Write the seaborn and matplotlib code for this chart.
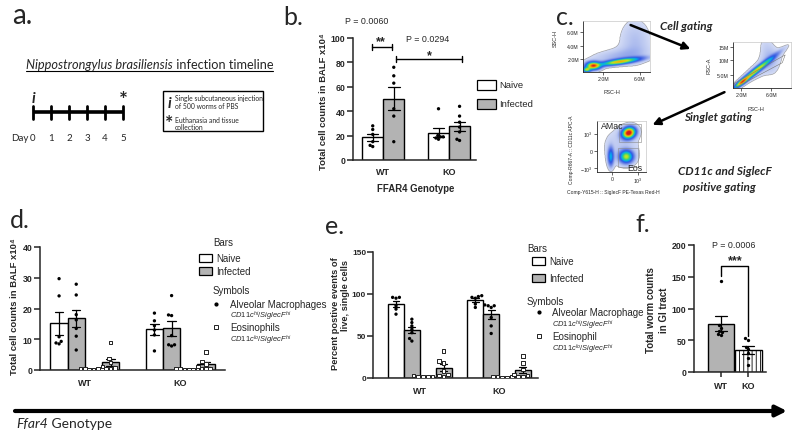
import numpy as np
import pandas as pd
import matplotlib
matplotlib.use("Agg")
import matplotlib.pyplot as plt
import seaborn as sns
from matplotlib.patches import Rectangle, Polygon
from matplotlib.colors import LinearSegmentedColormap, PowerNorm

# ---------------- data ----------------
timeline_days = [0, 1, 2, 3, 4, 5]

b_genotypes = ["WT", "KO"]
b_conditions = ["Naive", "Infected"]
b_wt_naive = [28, 25, 21, 15, 12, 11]
b_wt_infected = [76, 69, 63, 42, 36, 15]
b_ko_naive = [42, 20, 19, 19, 18, 17]
b_ko_infected = [44, 36, 31, 27, 23, 17, 16]
b_yticks = [0, 20, 40, 60, 80, 100]

cell_groups = ["AM Naive", "AM Infected", "Eos Naive", "Eos Infected"]
d_wt_am_naive = [29.7, 24.1, 10.8, 9.3, 8.5, 8.8]
d_wt_am_infected = [27.9, 24.4, 18.0, 16.3, 13.5, 11.0, 6.5]
d_wt_eos_naive = [0.5, 0.4, 0.3, 0.3, 0.2, 0.2]
d_wt_eos_infected = [9.0, 3.8, 2.4, 1.2, 0.6, 0.5, 0.3]
d_ko_am_naive = [18.5, 16.0, 14.4, 13.0, 11.4, 6.2]
d_ko_am_infected = [24.2, 17.9, 17.7, 11.2, 8.2, 8.2, 7.8]
d_ko_eos_naive = [0.4, 0.3, 0.3, 0.2, 0.2, 0.1]
d_ko_eos_infected = [5.8, 2.8, 2.0, 1.2, 0.5, 0.4, 0.3]
d_yticks = [0, 10, 20, 30, 40]

e_wt_am_naive = [96, 96, 95, 86, 82, 76]
e_wt_am_infected = [70, 66, 62, 58, 54, 47, 44]
e_wt_eos_naive = [3, 2, 2, 1.5, 1, 1]
e_wt_eos_infected = [32, 20, 18, 8, 4, 3, 2]
e_ko_am_naive = [98, 97, 96, 95, 88, 84]
e_ko_am_infected = [87, 86, 86, 84, 72, 62, 53]
e_ko_eos_naive = [2, 1.5, 1, 1, 0.5, 0.5]
e_ko_eos_infected = [26, 18, 10, 4, 3, 2, 1]
e_yticks = [0, 50, 100, 150]

f_genotypes = ["WT", "KO"]
f_wt = [143, 74, 70, 65, 63, 60, 58]
f_ko = [53, 50, 40, 36, 30, 22, 11]
f_yticks = [0, 50, 100, 150, 200]

# flow-cytometry density blobs: (cx, cy, sx, sy, angle, weight)
flow1_blobs = [(0.15, 0.12, 0.07, 0.05, 0, 1.0), (0.55, 0.2, 0.2, 0.035, 11, 0.85),
               (0.05, 0.04, 0.04, 0.03, 0, 0.7), (0.78, 0.6, 0.16, 0.3, 0, 0.08),
               (0.5, 0.3, 0.28, 0.1, 10, 0.09)]
flow2_blobs = [(0.38, 0.36, 0.3, 0.035, 45, 1.0), (0.15, 0.12, 0.1, 0.03, 45, 0.8),
               (0.62, 0.72, 0.1, 0.28, 10, 0.08), (0.5, 0.45, 0.35, 0.12, 45, 0.07)]
flow3_blobs = [(0.65, 0.77, 0.09, 0.07, 20, 1.0), (0.6, 0.3, 0.09, 0.08, 0, 0.6),
               (0.28, 0.3, 0.04, 0.12, 0, 0.35), (0.5, 0.5, 0.3, 0.3, 0, 0.05)]

# ---------------- setup ----------------
sns.set_theme(style="ticks")
plt.rcParams["font.family"] = ["Liberation Sans", "DejaVu Sans"]
plt.rcParams["mathtext.fontset"] = "custom"
plt.rcParams["mathtext.rm"] = "Liberation Sans"
plt.rcParams["mathtext.it"] = "Liberation Sans:italic"
plt.rcParams["mathtext.bf"] = "Liberation Sans:bold"
plt.rcParams["hatch.linewidth"] = 0.6

W, H = 792, 431
fig = plt.figure(figsize=(W / 100, H / 100), dpi=100)
fig.patch.set_facecolor("white")
GRAY = "#b3b3b3"
CAL = ["Lato", "DejaVu Sans"]


def pax(x0, y0, x1, y1):
    ax = fig.add_axes([x0 / W, 1 - y1 / H, (x1 - x0) / W, (y1 - y0) / H])
    ax.patch.set_alpha(0)
    return ax


ov = fig.add_axes([0, 0, 1, 1], zorder=20)
ov.set_xlim(0, W)
ov.set_ylim(H, 0)
ov.axis("off")
ov.patch.set_alpha(0)


def long_df(genos, groups, arrays):
    rows = []
    for g, arrs in zip(genos, arrays):
        for grp, vals in zip(groups, arrs):
            for v in vals:
                rows.append((g, grp, v))
    return pd.DataFrame(rows, columns=["genotype", "group", "value"])


def style_ax(ax, yticks, xtick_len=0, xpad=6, ysize=6.3, ypad=1.5):
    sns.despine(ax=ax)
    ax.set_ylim(yticks[0], yticks[-1])
    ax.set_yticks(yticks)
    ax.tick_params(axis="y", length=4, width=1.1, pad=ypad, labelsize=ysize)
    ax.tick_params(axis="x", length=xtick_len, width=1.1, pad=xpad, labelsize=6.5)
    for lab in ax.get_yticklabels() + ax.get_xticklabels():
        lab.set_fontweight("bold")
    for s in ["left", "bottom"]:
        ax.spines[s].set_linewidth(1.1)
    ax.set_xlabel("")
    ax.set_ylabel("")


swarm_sets = []


def bars_and_points(ax, df, order, hue_order, palette, width, squares=None):
    sns.barplot(data=df, x="genotype", y="value", hue="group", order=order,
                hue_order=hue_order, palette=palette, width=width,
                edgecolor="black", linewidth=1.0, errorbar="se", capsize=0.35,
                err_kws={"color": "black", "linewidth": 0.9}, legend=False, ax=ax)
    n0 = len(ax.collections)
    sq = squares or []
    dots = df[~df["group"].isin(sq)]
    sns.swarmplot(data=dots, x="genotype", y="value", hue="group", order=order,
                  hue_order=hue_order, dodge=True, palette={h: "black" for h in hue_order},
                  size=2.4, legend=False, ax=ax, zorder=4)
    if sq:
        sqd = df[df["group"].isin(sq)]
        sns.swarmplot(data=sqd, x="genotype", y="value", hue="group", order=order,
                      hue_order=hue_order, dodge=True, palette={h: "white" for h in hue_order},
                      marker="s", size=2.6, edgecolor="#222222", linewidth=0.7,
                      legend=False, ax=ax, zorder=4)
    swarm_sets.append((ax.collections[n0:], width / 0.8))


# ================= panel a =================
ov.text(12, 24, "a.", fontsize=20, family=CAL, va="baseline")
r = fig.canvas.get_renderer()
t1 = ov.text(26, 69, "Nippostrongylus brasiliensis", fontsize=9.2, family=CAL,
             style="italic", va="baseline")
x_end = t1.get_window_extent(r).x1
t2 = ov.text(x_end, 69, " infection timeline", fontsize=9.2, family=CAL, va="baseline")
ov.plot([26, t2.get_window_extent(r).x1], [71.5, 71.5], color="black", lw=0.8)

day_x = [33 + 18 * d for d in timeline_days]
ov.plot([day_x[0], day_x[-1]], [113, 113], color="black", lw=2.6, solid_capstyle="butt")
for x, d in zip(day_x, timeline_days):
    ov.plot([x, x], [106.5, 119.5], color="black", lw=2)
    ov.text(x, 141, str(d), fontsize=7, family=CAL, ha="center", va="baseline")
ov.text(28, 141, "Day", fontsize=7, family=CAL, ha="right", va="baseline")
ov.text(day_x[0], 103, "i", fontsize=11, family=CAL, style="italic", weight="bold",
        ha="center", va="baseline")
ov.text(day_x[-1], 101, "*", fontsize=15, family=CAL, weight="bold", ha="center", va="center")

ov.add_patch(Rectangle((163, 92), 100, 40, fill=False, ec="black", lw=1))
ov.text(169, 108, "i", fontsize=11, family=CAL, style="italic", weight="bold",
        ha="center", va="baseline")
ov.text(175, 101.5, "Single subcutaneous injection", fontsize=4.9, family=CAL, va="baseline")
ov.text(175, 109, "of 500 worms of PBS", fontsize=4.9, family=CAL, va="baseline")
ov.text(169, 124, "*", fontsize=14, family=CAL, weight="bold", ha="center", va="center")
ov.text(175, 123, "Euthanasia and tissue", fontsize=4.9, family=CAL, va="baseline")
ov.text(175, 130, "collection", fontsize=4.9, family=CAL, va="baseline")

# ================= panel b =================
ov.text(283, 25, "b.", fontsize=18, family=CAL, va="baseline")
axb = pax(353, 39, 476, 161)
df_b = long_df(b_genotypes, b_conditions,
               [[b_wt_naive, b_wt_infected], [b_ko_naive, b_ko_infected]])
bars_and_points(axb, df_b, b_genotypes, b_conditions,
                {"Naive": "white", "Infected": GRAY}, 0.64)
axb.set_xlim(-0.46, 1.41)
style_ax(axb, b_yticks, xpad=5)
ov.text(323, 102, "Total cell counts in BALF x10⁴", rotation=90, fontsize=6.8,
        weight="bold", ha="center", va="center")
ov.text(416, 189, "FFAR4 Genotype", fontsize=6.9, weight="bold", ha="center", va="center")
ov.text(367, 21, "P = 0.0060", fontsize=6.4, ha="center", va="center")
ov.text(381, 42, "**", fontsize=9, weight="bold", ha="center", va="center")
ov.plot([372, 392], [47.5, 47.5], color="black", lw=1)
for x in [372, 392]:
    ov.plot([x, x], [44.5, 50.5], color="black", lw=1)
ov.text(428, 39, "P = 0.0294", fontsize=6.4, ha="center", va="center")
ov.text(429, 56, "*", fontsize=9, weight="bold", ha="center", va="center")
ov.plot([396, 462], [60, 60], color="black", lw=1)
for x in [396, 462]:
    ov.plot([x, x], [57, 63], color="black", lw=1)
for y, lab, col in [(86, "Naive", "white"), (105, "Infected", GRAY)]:
    ov.add_patch(Rectangle((477, y - 5), 18.5, 9.5, fc=col, ec="black", lw=0.9))
    ov.text(499, y, lab, fontsize=6.8, va="center")

# ================= panel c =================
ov.text(556, 25, "c.", fontsize=18, family=CAL, va="baseline")
flow_cmap = LinearSegmentedColormap.from_list(
    "flow", ["#eef1fb", "#b9c6f0", "#6d86e6", "#2f55e3", "#00aeef", "#34d07a",
             "#c7e61a", "#ff9a00", "#d7191c"])


def density(blobs, n=140):
    xs = np.linspace(0, 1, n)
    X, Y = np.meshgrid(xs, xs)
    Z = np.zeros_like(X)
    for cx, cy, sx, sy, ang, w in blobs:
        t = np.deg2rad(ang)
        dx, dy = X - cx, Y - cy
        u = dx * np.cos(t) + dy * np.sin(t)
        v = -dx * np.sin(t) + dy * np.cos(t)
        Z += w * np.exp(-0.5 * ((u / sx) ** 2 + (v / sy) ** 2))
    return Z


def flow_ax(rect, blobs, xt, xtl, yt, ytl, vmax_scale=1.0):
    ax = pax(*rect)
    Z = density(blobs)
    Zm = np.ma.masked_less(Z, 0.025 * Z.max())
    ax.imshow(Zm, origin="lower", extent=(0, 1, 0, 1), aspect="auto", cmap=flow_cmap,
              norm=PowerNorm(0.75, vmin=0, vmax=Z.max() * vmax_scale),
              interpolation="bilinear")
    ax.set_xlim(0, 1)
    ax.set_ylim(0, 1)
    ax.set_xticks(xt)
    ax.set_xticklabels(xtl)
    ax.set_yticks(yt)
    ax.set_yticklabels(ytl)
    ax.tick_params(labelsize=3.8, length=2, width=0.5, pad=1)
    for s in ["top", "right"]:
        ax.spines[s].set_color("#c8c8c8")
        ax.spines[s].set_linewidth(0.5)
    for s in ["left", "bottom"]:
        ax.spines[s].set_linewidth(0.6)
    return ax


fa1 = flow_ax((583, 22, 650, 73), flow1_blobs, [0.3, 0.85], ["2.0M", "6.0M"],
              [0.25, 0.51, 0.78], ["2.0M", "4.0M", "6.0M"])
fa2 = flow_ax((733, 43, 791, 89), flow2_blobs, [0.14, 0.66], ["2.0M", "6.0M"],
              [0.28, 0.61, 0.89], ["5.0M", "10M", "15M"])
fa2.add_patch(Polygon([(0.06, 0.02), (0.85, 0.55), (0.9, 0.72), (0.02, 0.1)],
                      closed=True, fill=False, ec="#777777", lw=0.4))
fa3 = flow_ax((597, 122, 646, 173), flow3_blobs, [0.31, 0.84], ["0", "$10^3$"],
              [0.08, 0.41, 0.75], ["$-10^3$", "0", "$10^3$"], vmax_scale=0.9)
fa3.add_patch(Rectangle((0.45, 0.58), 0.45, 0.36, fill=False, ec="#888888", lw=0.4))
fa3.add_patch(Rectangle((0.42, 0.1), 0.42, 0.38, fill=False, ec="#888888", lw=0.4))

ov.text(555, 38, "SSC-H", rotation=90, fontsize=4, ha="center", va="center")
ov.text(612, 93, "FSC-H", fontsize=4, ha="center", va="center")
ov.text(709, 66, "FSC-A", rotation=90, fontsize=4, ha="center", va="center")
ov.text(756, 110, "FSC-H", fontsize=4, ha="center", va="center")
ov.text(572, 150, "Comp-R667-A :: CD11c APC-A", rotation=90, fontsize=3.6,
        ha="center", va="center")
ov.text(567, 193, "Comp-Y615-H :: SiglecF PE-Texas Red-H", fontsize=3.6, va="center")
ov.text(612, 127, "AMac", fontsize=6.3, ha="center", va="center")
ov.text(635, 169, "Eos", fontsize=6.3, ha="center", va="center")

ov.text(686, 27, "Cell gating", fontsize=8.5, family=CAL, weight="bold", style="italic",
        ha="center", va="center")
ov.text(718, 118, "Singlet gating", fontsize=8.5, family=CAL, weight="bold",
        style="italic", ha="center", va="center")
ov.text(725, 172, "CD11c and SiglecF", fontsize=8.5, family=CAL, weight="bold",
        style="italic", ha="center", va="center")
ov.text(719, 188, "positive gating", fontsize=8.5, family=CAL, weight="bold",
        style="italic", ha="center", va="center")
ov.annotate("", xy=(693, 51), xytext=(628, 25),
            arrowprops=dict(arrowstyle="-|>", color="black", lw=1.8, mutation_scale=11))
ov.annotate("", xy=(650, 127), xytext=(727, 92),
            arrowprops=dict(arrowstyle="-|>", color="black", lw=1.8, mutation_scale=11))

# ================= panel d =================
ov.text(10, 228, "d.", fontsize=18, family=CAL, va="baseline")
axd = pax(40, 248, 225, 371)
df_d = long_df(b_genotypes, cell_groups,
               [[d_wt_am_naive, d_wt_am_infected, d_wt_eos_naive, d_wt_eos_infected],
                [d_ko_am_naive, d_ko_am_infected, d_ko_eos_naive, d_ko_eos_infected]])
pal4 = {"AM Naive": "white", "AM Infected": GRAY, "Eos Naive": "white", "Eos Infected": GRAY}
bars_and_points(axd, df_d, b_genotypes, cell_groups, pal4, 0.72,
                squares=["Eos Naive", "Eos Infected"])
axd.set_xlim(-0.47, 1.47)
style_ax(axd, d_yticks)
ov.text(15, 307, "Total cell counts in BALF x10⁴", rotation=90, fontsize=6.8,
        weight="bold", ha="center", va="center")


def draw_cell_legend(xb, xbox, xt, xm, ys, am_label, eos_label):
    yb, yn, yi, ysym, yam, yamc, yeo, yeoc = ys
    ov.text(xb, yb, "Bars", fontsize=7, va="center")
    for y, lab, col in [(yn, "Naive", "white"), (yi, "Infected", GRAY)]:
        ov.add_patch(Rectangle((xbox, y - 4), 13, 8, fc=col, ec="black", lw=0.9))
        ov.text(xbox + 17, y, lab, fontsize=7, va="center")
    ov.text(xb, ysym, "Symbols", fontsize=7, va="center")
    ov.plot([xm], [yam], marker="o", ms=2, color="black")
    ov.text(xt, yam, am_label, fontsize=7, va="center")
    ov.text(xt, yamc, r"$\it{CD11c^{hi}/SiglecF^{hi}}$", fontsize=5.4, va="center")
    ov.plot([xm], [yeo], marker="s", ms=2.6, mfc="white", mec="#222222", mew=0.7)
    ov.text(xt, yeo, eos_label, fontsize=7, va="center")
    ov.text(xt, yeoc, r"$\it{CD11c^{lo}/SiglecF^{hi}}$", fontsize=5.4, va="center")


draw_cell_legend(213, 199, 230, 216, (243, 259, 272, 291, 305, 316, 328, 340),
                 "Alveolar Macrophages", "Eosinophils")

# ================= panel e =================
ov.text(325, 234, "e.", fontsize=18, family=CAL, va="baseline")
axe = pax(373, 253, 538, 379)
df_e = long_df(b_genotypes, cell_groups,
               [[e_wt_am_naive, e_wt_am_infected, e_wt_eos_naive, e_wt_eos_infected],
                [e_ko_am_naive, e_ko_am_infected, e_ko_eos_naive, e_ko_eos_infected]])
bars_and_points(axe, df_e, b_genotypes, cell_groups, pal4, 0.8,
                squares=["Eos Naive", "Eos Infected"])
axe.set_xlim(-0.59, 1.49)
style_ax(axe, e_yticks, ysize=6.0, ypad=1.0)
ov.text(335, 314, "Percent postive events of", rotation=90, fontsize=6.7,
        weight="bold", ha="center", va="center")
ov.text(346, 296, "live, single cells", rotation=90, fontsize=6.7,
        weight="bold", ha="center", va="center")
draw_cell_legend(527, 532, 552, 539, (249, 262, 279, 302, 313, 325, 337, 349),
                 "Alveolar Macrophage", "Eosinophil")

# ================= panel f =================
ov.text(635, 232, "f.", fontsize=18, family=CAL, va="baseline")
axf = pax(694, 246, 766, 373)
df_f = pd.DataFrame({"genotype": ["WT"] * len(f_wt) + ["KO"] * len(f_ko),
                     "value": f_wt + f_ko})
sns.barplot(data=df_f, x="genotype", y="value", hue="genotype", order=f_genotypes,
            hue_order=f_genotypes, palette={"WT": GRAY, "KO": "white"}, width=0.98,
            edgecolor="black", linewidth=1.0, errorbar="se", capsize=0.45,
            err_kws={"color": "black", "linewidth": 0.9}, legend=False, ax=axf)
ko_bar = axf.patches[1]
ko_bar.set_hatch("||||")
try:
    ko_bar.set_hatchcolor("#666666")
except Exception:
    pass
sns.swarmplot(data=df_f, x="genotype", y="value", order=f_genotypes, color="black",
              size=2.4, ax=axf, zorder=4)
axf.set_xlim(-1.0, 1.65)
style_ax(axf, f_yticks, xtick_len=3.5, xpad=3)
ov.text(651, 310, "Total worm counts", rotation=90, fontsize=7, weight="bold",
        ha="center", va="center")
ov.text(664, 310, "in GI tract", rotation=90, fontsize=7, weight="bold",
        ha="center", va="center")
ov.text(734, 246, "P = 0.0006", fontsize=6.4, ha="center", va="center")
ov.text(735, 261, "***", fontsize=9, weight="bold", ha="center", va="center")
ov.plot([721, 721, 748, 748], [277, 267, 267, 337], color="black", lw=1)

# ================= bottom arrow =================
ov.annotate("", xy=(787, 412), xytext=(15, 412),
            arrowprops=dict(arrowstyle="-|>", color="black", lw=3, mutation_scale=16,
                            shrinkA=0, shrinkB=0))
tb = ov.text(16, 428, "Ffar4", fontsize=10, family=CAL, style="italic", va="baseline")
ov.text(tb.get_window_extent(r).x1, 428, " Genotype", fontsize=10, family=CAL,
        va="baseline")

# ---- finalize swarms: compress dodge offsets to match narrower bars ----
fig.canvas.draw()
for colls, factor in swarm_sets:
    for c in colls:
        if "draw" in c.__dict__:
            del c.draw
        off = np.array(c.get_offsets(), dtype=float)
        if len(off) == 0:
            continue
        ctr = np.round(off[:, 0])
        off[:, 0] = ctr + (off[:, 0] - ctr) * factor
        c.set_offsets(off)

fig.savefig("out.png", dpi=100, facecolor="white")
